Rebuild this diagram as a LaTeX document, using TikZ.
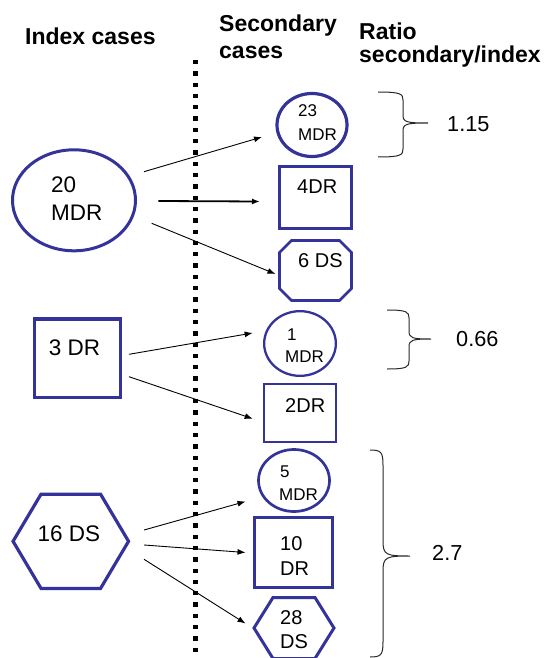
\documentclass[tikz,border=0pt]{standalone}
\usepackage{fontspec}
\setmainfont{Liberation Sans}
\usetikzlibrary{shapes.geometric,arrows.meta}

\definecolor{caseblue}{RGB}{51,51,153}
\definecolor{braceink}{RGB}{40,40,40}

% hexagon with flat top/bottom drawn on the frame of a named node
\newcommand\drawhex[3]{%
  \draw[shapeline,#3] ([xshift=#2]#1.north west) -- ([xshift=-#2]#1.north east)
    -- (#1.east) -- ([xshift=-#2]#1.south east) -- ([xshift=#2]#1.south west)
    -- (#1.west) -- cycle;}
% octagon (chamfered box) drawn on the frame of a named node
\newcommand\drawoct[3]{%
  \draw[shapeline,#3] ([xshift=#2]#1.north west) -- ([xshift=-#2]#1.north east)
    -- ([yshift=-#2]#1.north east) -- ([yshift=#2]#1.south east)
    -- ([xshift=-#2]#1.south east) -- ([xshift=#2]#1.south west)
    -- ([yshift=#2]#1.south west) -- ([yshift=-#2]#1.north west) -- cycle;}
% right curly brace: left x, top y, spine x, tip x, tip y, bottom y, corner size
\newcommand\ratiobrace[7]{%
  \draw[braceline] (#1,#2) .. controls (#3-2,#2) and (#3,#2+2) .. (#3,#2+#7)
    -- (#3,#5-#7) .. controls (#3,#5-1) and (#3+3,#5) .. (#4,#5)
    .. controls (#3+3,#5) and (#3,#5+1) .. (#3,#5+#7)
    -- (#3,#6-#7) .. controls (#3,#6-2) and (#3-2,#6) .. (#1,#6);}

\begin{document}
\begin{tikzpicture}[x=1pt,y=-1pt,
  shapeline/.style={draw=caseblue, line width=3pt, line join=miter},
  casenode/.style={draw=caseblue, line width=3pt, inner sep=0pt, outer sep=0pt},
  ellnode/.style={casenode, ellipse},
  boxnode/.style={casenode, rectangle},
  framenode/.style={rectangle, inner sep=0pt, outer sep=0pt},
  head/.style={anchor=base west, inner sep=0pt, font=\fontsize{23}{27}\bfseries},
  biglbl/.style={anchor=base west, inner sep=0pt, font=\fontsize{22.5}{26}\selectfont},
  midlbl/.style={anchor=base west, inner sep=0pt, font=\fontsize{20}{24}\selectfont},
  smalllbl/.style={anchor=base west, inner sep=0pt, font=\fontsize{17}{20}\selectfont},
  ratiolbl/.style={anchor=base west, inner sep=0pt, font=\fontsize{21.7}{26}\selectfont},
  arr/.style={-{Latex[length=8pt,width=6pt]}, line width=0.9pt},
  braceline/.style={draw=braceink, line width=1pt},
  divider/.style={line width=5pt, dash pattern=on 4.3pt off 7pt}]

\useasboundingbox (0,0) rectangle (544,658);

% column headings
\node[head] (hindex) at (25,45) {Index cases};
\node[head] (hsec1) at (219,31.7) {Secondary};
\node[head] (hsec2) at (219,58.3) {cases};
\node[head] (hratio1) at (359,39.3) {Ratio};
\node[head] (hratio2) at (359,62.7) {secondary/index};

% dotted divider
\coordinate (divtop) at (195,60);
\coordinate (divbot) at (195,662);
\draw[divider] (divtop) -- (divbot);

% index cases
\node[ellnode, minimum width=123pt, minimum height=101pt] (e20) at (74,200.3) {};
\node[biglbl] (e20a) at (51,192) {20};
\node[biglbl] (e20b) at (51,220) {MDR};

\node[boxnode, line width=3.2pt, minimum width=86pt, minimum height=78.5pt] (s3) at (77.8,358.2) {};
\node[biglbl] (s3a) at (48.6,355) {3 DR};

\node[framenode, minimum width=115.5pt, minimum height=94.3pt] (h16) at (70.8,541.3) {};
\drawhex{h16}{28pt}{line width=3.2pt}
\node[biglbl] (h16a) at (37.5,541.7) {16 DS};

% secondary cases
\node[ellnode, line width=3.2pt, minimum width=70pt, minimum height=63pt] (c23) at (312,125) {};
\node[smalllbl] (c23a) at (298,117) {23};
\node[smalllbl] (c23b) at (298,140) {MDR};

\node[boxnode, line width=3.3pt, minimum width=72pt, minimum height=62pt] (s4) at (315.5,197.5) {};
\node[midlbl] (s4a) at (297,193) {4DR};

\node[framenode, minimum width=72pt, minimum height=60pt] (o6) at (315.5,270.5) {};
\drawoct{o6}{12pt}{line width=2.8pt}
\node[midlbl] (o6a) at (298,267) {6 DS};

\node[ellnode, line width=2.3pt, minimum width=71.7pt, minimum height=64.7pt] (c1) at (300,343.5) {};
\node[smalllbl] (c1a) at (287,340) {1};
\node[smalllbl] (c1b) at (285,362) {MDR};

\node[boxnode, line width=2.2pt, minimum width=72pt, minimum height=58pt] (s2) at (300,413) {};
\node[midlbl] (s2a) at (285,412) {2DR};

\node[ellnode, line width=2.7pt, minimum width=71pt, minimum height=62pt] (c5) at (294,480.5) {};
\node[smalllbl] (c5a) at (280,477) {5};
\node[smalllbl] (c5b) at (279,500) {MDR};

\node[boxnode, minimum width=78pt, minimum height=70pt] (s10) at (293.5,552.5) {};
\node[midlbl] (s10a) at (280,550) {10};
\node[midlbl] (s10b) at (280,575) {DR};

\node[framenode, minimum width=80pt, minimum height=61pt] (h28) at (294,628) {};
\drawhex{h28}{19pt}{line width=3pt}
\node[midlbl] (h28a) at (280,624) {28};
\node[midlbl] (h28b) at (280,648) {DS};

% transmission arrows
\draw[arr] ([shift={(8.5,-28.6)}]e20.east) -- ([shift={(-15,12)}]c23.west);
\draw[arr, line width=1.8pt] ([shift={(22.8,0.7)}]e20.east) -- ([shift={(-19.5,4)}]s4.west);
\draw[arr] ([shift={(16.2,23)}]e20.east) -- ([shift={(-4,3.5)}]o6.west);

\draw[arr] ([shift={(8.2,-3.9)}]s3.east) -- ([shift={(-11.5,-10.5)}]c1.west);
\draw[arr] ([shift={(8.2,18.5)}]s3.east) -- ([shift={(-11.3,5.7)}]s2.west);

\draw[arr] ([shift={(15.5,-11.3)}]h16.east) -- ([shift={(-13,21)}]c5.west);
\draw[arr] ([shift={(15.5,3.7)}]h16.east) -- ([shift={(-9,0)}]s10.west);
\draw[arr] ([shift={(15.5,18)}]h16.east) -- ([shift={(-8.5,-4.5)}]h28.west);

% ratio braces and values
\ratiobrace{378}{92}{403}{428}{123}{157}{8}
\node[ratiolbl] (r1) at (447,131.7) {1.15};

\ratiobrace{387}{310}{409}{431}{339}{369}{8}
\node[ratiolbl] (r2) at (456,346.7) {0.66};

\ratiobrace{370}{450}{383}{410}{556}{657}{15}
\node[ratiolbl] (r3) at (432,560) {2.7};

\end{tikzpicture}
\end{document}
